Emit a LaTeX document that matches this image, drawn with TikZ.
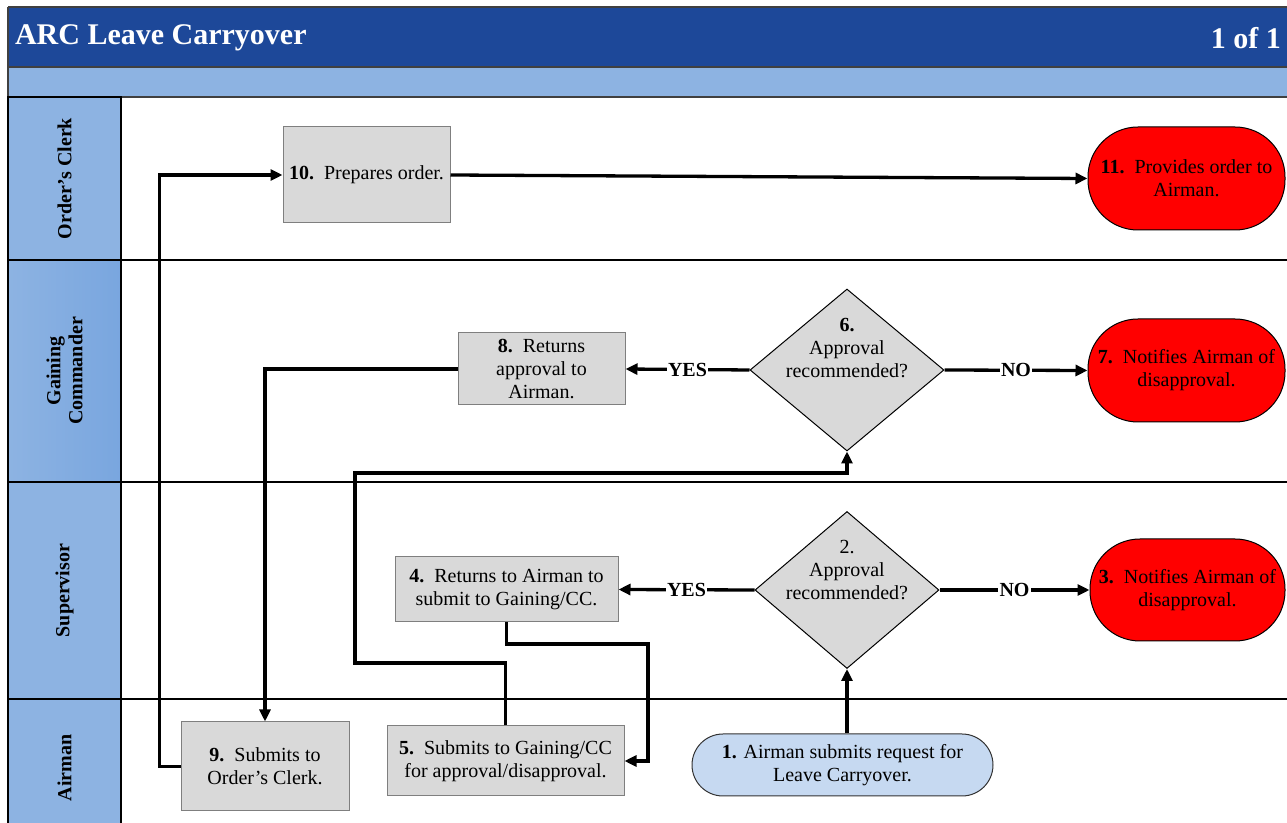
\documentclass[tikz,border=0pt]{standalone}
\usepackage{fontspec}
\setmainfont{Liberation Serif}
\usetikzlibrary{shapes.geometric,arrows.meta}
\definecolor{hdrblue}{HTML}{1D4899}
\definecolor{bandblue}{HTML}{8DB3E2}
\definecolor{lanedark}{HTML}{79A6DF}
\definecolor{boxgray}{HTML}{D9D9D9}
\definecolor{termblue}{HTML}{C6D9F1}
\definecolor{edgegray}{HTML}{7F7F7F}
\definecolor{rulegray}{HTML}{404040}

\begin{document}
\begin{tikzpicture}[x=0.5pt,y=-0.5pt,
  sz/.style 2 args={minimum width=#1*0.5pt, minimum height=#2*0.5pt},
  txt/.style={font=\fontsize{10pt}{11.5pt}\selectfont, align=center},
  stepbox/.style={txt, draw=edgegray, line width=0.5pt, fill=boxgray, inner sep=0pt},
  endbox/.style={txt, draw=black, line width=0.5pt, fill=red, inner sep=0pt, rounded corners=25pt},
  startbox/.style={txt, draw=black!80, line width=0.5pt, fill=termblue, inner sep=0pt, rounded corners=15.5pt},
  dia/.style={diamond, draw=black, line width=0.5pt, fill=boxgray, inner sep=0pt},
  flow/.style={line width=1.65pt, -{Triangle[length=6pt,width=5.5pt]}},
  answer/.style={font=\bfseries\fontsize{10pt}{11.5pt}\selectfont, fill=white, inner sep=0.6pt},
  lanelabel/.style={rotate=90, align=center, font=\bfseries\fontsize{10pt}{11pt}\selectfont},
  laneline/.style={line width=0.8pt, draw=black}
]
\useasboundingbox (0,0) rectangle (1287,823);
\clip (0,0) rectangle (1287,823);

% title bar and sub-band
\fill[hdrblue] (8,7) rectangle (1290,67);
\fill[bandblue] (8,67) rectangle (1290,97);
\draw[rulegray, line width=0.9pt] (8,7) -- (1290,7);
\draw[rulegray, line width=0.9pt] (8,67) -- (1290,67);
\draw[rulegray, line width=0.9pt] (8,97) -- (1290,97);
\draw[rulegray, line width=0.9pt] (8,7) -- (8,97);
\node[anchor=west, text=white, font=\bfseries\fontsize{15pt}{18pt}\selectfont] (title) at (8,38) {ARC Leave Carryover};
\node[anchor=east, text=white, font=\bfseries\fontsize{15pt}{18pt}\selectfont] (page) at (1288,38) {1 of 1};

% swimlane headers
\draw[laneline, fill=bandblue] (8,97) rectangle (121,260);
\draw[laneline, left color=bandblue, right color=lanedark] (8,260) rectangle (121,482);
\draw[laneline, fill=bandblue] (8,482) rectangle (121,699);
\draw[laneline, fill=bandblue] (8,699) rectangle (121,830);
\node[lanelabel] (lclerk) at (64.5,178.5) {Order’s Clerk};
\node[lanelabel] (lcmdr) at (64.5,371) {Gaining\\Commander};
\node[lanelabel] (lsup) at (64.5,590.5) {Supervisor};
\node[lanelabel] (lairman) at (64.5,768) {Airman};

% swimlane separators
\draw[laneline] (121,260) -- (1290,260);
\draw[laneline] (121,482) -- (1290,482);
\draw[laneline] (121,699) -- (1290,699);

% process steps
\node[startbox, sz={301}{62}] (n1) at (842.5,765) {\textbf{1.} Airman submits request for\\Leave Carryover.};
\node[dia, sz={184}{157}] (d2) at (847,590) {};
\node[txt] (t2) at ([yshift=10pt]d2.center) {2.\\Approval\\recommended?};
\node[endbox, sz={195}{102}] (n3) at (1187.5,590) {\textbf{3.}\ \ Notifies Airman of\\disapproval.};
\node[stepbox, sz={223}{65}] (n4) at (506.5,589.5) {\textbf{4.}\ \ Returns to Airman to\\submit to Gaining/CC.};
\node[stepbox, sz={237}{70}] (n5) at (505.5,761) {\textbf{5.}\ \ Submits to Gaining/CC\\for approval/disapproval.};
\node[dia, sz={194}{162}] (d6) at (847,370) {};
\node[txt] (t6) at ([yshift=11pt]d6.center) {\textbf{6.}\\Approval\\recommended?};
\node[endbox, sz={197}{103}] (n7) at (1186.5,370.5) {\textbf{7.}\ \ Notifies Airman of\\disapproval.};
\node[stepbox, sz={167}{72}] (n8) at (541.5,369) {\textbf{8.}\ \ Returns\\approval to\\Airman.};
\node[stepbox, sz={168}{89}] (n9) at (265,766.5) {\textbf{9.}\ \ Submits to\\Order’s Clerk.};
\node[stepbox, sz={167}{96}] (n10) at (366.5,175) {\textbf{10.}\ \ Prepares order.};
\node[endbox, sz={197}{103}] (n11) at (1186.5,178.5) {\textbf{11.}\ \ Provides order to\\Airman.};

% connectors
\draw[flow] (d2.south |- n1.north) -- (d2.south);
\draw[flow] (d2.west) -- node[answer] {YES} (n4.east);
\draw[flow] (d2.east) -- node[answer] {NO} (n3.west);
\draw[flow] (n4.south) |- (648,644) |- (n5.east);
\draw[flow] (n5.north) |- (355,663) |- (d6.south |- 0,473) -- (d6.south);
\draw[flow] (d6.west) -- node[answer] {YES} (n8.east);
\draw[flow] (d6.east) -- node[answer] {NO} (n7.west);
\draw[flow] (n8.west) -| (n9.north);
\draw[flow] (n9.west) -- ++(-21,0) |- (n10.west);
\draw[flow] (n10.east) -- (n11.west);
\end{tikzpicture}
\end{document}
